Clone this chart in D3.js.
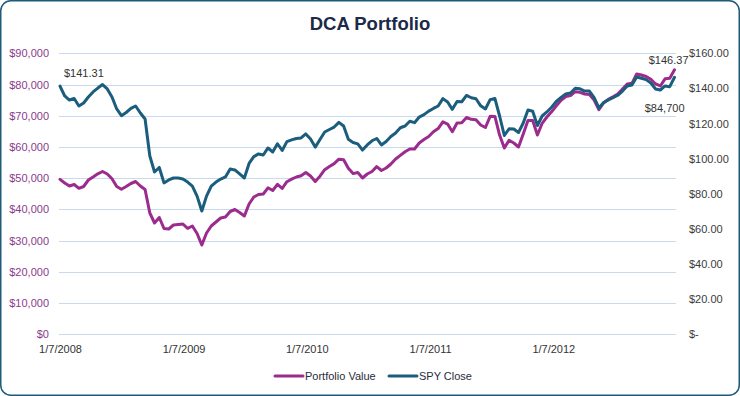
<!DOCTYPE html>
<html>
<head>
<meta charset="utf-8">
<script src="https://cdn.jsdelivr.net/npm/d3@7"></script>
<style>
  body { margin: 0; background: #fff; }
  svg { display: block; font-family: "Liberation Sans", Arial, sans-serif; }
</style>
</head>
<body>
<div id="chart"></div>
<script>
// weekly closes sampled every two weeks, first Monday of 2008 to the last Monday of 2012
const startDate = '2008-01-07'
const stepDays = 14

const spyClose = [
  141.31, 135.7, 133.4, 134.3, 130.0, 131.7, 135.1, 138.0, 140.2, 142.2,
  139.7, 135.1, 128.3, 124.5, 126.3, 128.6, 130.0, 126.0, 122.6, 101.5,
  92.4, 95.0, 86.2, 87.9, 89.0, 89.0, 88.4, 86.7, 84.4, 78.7,
  70.2, 78.7, 84.4, 86.7, 88.4, 89.6, 94.1, 93.6, 91.3, 89.0,
  97.3, 101.2, 102.7, 102.1, 106.1, 103.8, 108.5, 104.7, 109.7, 110.7,
  111.5, 111.8, 114.1, 111.2, 106.6, 110.9, 115.2, 116.6, 118.0, 120.7,
  118.6, 111.0, 109.2, 108.4, 104.9, 107.8, 110.2, 111.5, 107.8, 109.8,
  112.6, 114.6, 117.6, 118.6, 121.3, 120.5, 123.7, 125.1, 127.1, 128.6,
  130.0, 134.2, 132.3, 128.1, 132.6, 132.4, 136.0, 134.7, 134.1, 130.1,
  128.3, 133.6, 134.3, 124.3, 113.2, 117.0, 116.9, 114.9, 120.3, 127.7,
  127.0, 118.9, 124.3, 126.6, 129.3, 132.6, 134.9, 136.9, 137.4, 140.1,
  139.8, 138.5, 138.5, 134.8, 128.9, 132.0, 133.5, 134.8, 136.1, 138.5,
  141.4, 142.0, 146.5, 145.8, 145.0, 143.1, 139.7, 139.1, 141.4, 141.0,
  146.37
]

const portfolioValue = [
  49640, 48460, 47500, 47980, 46760, 47340, 49420, 50380, 51410, 52140,
  51340, 49800, 47340, 46470, 47340, 48300, 48940, 47500, 46380, 38850,
  35650, 37410, 33890, 33730, 35010, 35170, 35330, 33950, 34690, 32280,
  28600, 32440, 34690, 35970, 37250, 37570, 39330, 39970, 39010, 37890,
  41730, 43970, 44780, 44940, 46920, 46060, 48040, 46700, 48870, 49680,
  50380, 50760, 51820, 50700, 48940, 50640, 52720, 53770, 54670, 56080,
  55890, 53170, 51470, 51820, 50060, 51340, 52140, 53710, 52460, 53260,
  54540, 56150, 57300, 58480, 59350, 59350, 61270, 62390, 63350, 64860,
  65910, 68030, 67350, 64890, 67670, 67770, 69440, 68860, 68730, 67030,
  66230, 69820, 69760, 63830, 59670, 62130, 61270, 59990, 64150, 68480,
  68480, 63830, 67580, 69600, 71260, 73180, 74950, 76160, 76480, 77700,
  77510, 76960, 76800, 75040, 71940, 74080, 75230, 76070, 76960, 78560,
  80170, 80390, 83370, 83050, 82570, 81670, 80170, 79530, 81830, 81990,
  84700
]

const leftTicks = [0, 10000, 20000, 30000, 40000, 50000, 60000, 70000, 80000, 90000]
const rightTicks = [0, 20, 40, 60, 80, 100, 120, 140, 160]
const xTicks = ['2008-01-07', '2009-01-07', '2010-01-07', '2011-01-07', '2012-01-07']

const seriesNames = ['Portfolio Value', 'SPY Close']
const colors = ['#9c2b8e', '#1b5d7c']

;(() => {
  const width = 740
  const height = 396
  const plot = { left: 59, right: 676, top: 53.3, bottom: 334.3 }

  const parse = d3.utcParse('%Y-%m-%d')
  const start = parse(startDate)
  const dates = spyClose.map((v, i) => d3.utcDay.offset(start, i * stepDays))
  const rows = dates.map((d, i) => ({ date: d, spy: spyClose[i], value: portfolioValue[i] }))

  const svg = d3.select('#chart')
    .append('svg')
    .attr('width', width)
    .attr('height', height)

  // card
  svg.append('rect')
    .attr('x', 0.75).attr('y', 0.75)
    .attr('width', width - 1.5).attr('height', height - 1.5)
    .attr('rx', 10)
    .attr('fill', '#fff')
    .attr('stroke', '#1f5a78')
    .attr('stroke-width', 1.5)

  svg.append('text')
    .attr('x', 370).attr('y', 30)
    .attr('text-anchor', 'middle')
    .attr('font-size', 18.5)
    .attr('font-weight', 'bold')
    .attr('fill', '#1b2a47')
    .text('DCA Portfolio')

  const xScale = d3.scaleUtc()
    .domain([dates[0], dates[dates.length - 1]])
    .range([60, 674.5])
  const yLeft = d3.scaleLinear().domain([0, 90000]).range([plot.bottom, plot.top])
  const yRight = d3.scaleLinear().domain([0, 160]).range([plot.bottom, plot.top])

  // grid
  svg.append('g')
    .selectAll('line')
    .data(leftTicks)
    .join('line')
    .attr('x1', plot.left).attr('x2', plot.right)
    .attr('y1', d => Math.round(yLeft(d)) + 0.5)
    .attr('y2', d => Math.round(yLeft(d)) + 0.5)
    .attr('stroke', '#c8daee')
    .attr('stroke-width', 1)

  // left axis
  const leftAxis = svg.append('g')
    .attr('transform', `translate(${plot.left}, 0)`)
    .call(d3.axisLeft(yLeft).tickValues(leftTicks).tickSize(0).tickPadding(10)
      .tickFormat(d => '$' + d3.format(',')(d)))
  leftAxis.select('.domain').remove()
  leftAxis.selectAll('text')
    .attr('font-size', 11)
    .attr('font-family', '"Liberation Sans", Arial, sans-serif')
    .attr('fill', '#8b3a8c')

  // right axis
  const rightAxis = svg.append('g')
    .attr('transform', `translate(${plot.right}, 0)`)
    .call(d3.axisRight(yRight).tickValues(rightTicks).tickSize(0).tickPadding(13)
      .tickFormat(d => d === 0 ? '$-' : '$' + d3.format('.2f')(d)))
  rightAxis.select('.domain').remove()
  rightAxis.selectAll('text')
    .attr('font-size', 11)
    .attr('font-family', '"Liberation Sans", Arial, sans-serif')
    .attr('fill', '#3a3a3a')

  // bottom axis
  const bottomAxis = svg.append('g')
    .attr('transform', `translate(0, ${plot.bottom})`)
    .call(d3.axisBottom(xScale).tickValues(xTicks.map(parse)).tickSize(0).tickPadding(11)
      .tickFormat(d => `${d.getUTCMonth() + 1}/${d.getUTCDate()}/${d.getUTCFullYear()}`))
  bottomAxis.select('.domain').remove()
  bottomAxis.selectAll('text')
    .attr('font-size', 11)
    .attr('font-family', '"Liberation Sans", Arial, sans-serif')
    .attr('fill', '#333')

  // lines
  const valueLine = d3.line()
    .x(d => xScale(d.date))
    .y(d => yLeft(d.value))
  const spyLine = d3.line()
    .x(d => xScale(d.date))
    .y(d => yRight(d.spy))

  svg.append('path')
    .datum(rows)
    .attr('d', valueLine)
    .attr('fill', 'none')
    .attr('stroke', colors[0])
    .attr('stroke-width', 3)
    .attr('stroke-linejoin', 'round')
    .attr('stroke-linecap', 'round')

  svg.append('path')
    .datum(rows)
    .attr('d', spyLine)
    .attr('fill', 'none')
    .attr('stroke', colors[1])
    .attr('stroke-width', 3)
    .attr('stroke-linejoin', 'round')
    .attr('stroke-linecap', 'round')

  // data labels
  const first = rows[0]
  const last = rows[rows.length - 1]
  const labels = svg.append('g')
    .attr('font-size', 11)
    .attr('fill', '#333')
  labels.append('text')
    .attr('x', xScale(first.date) + 4)
    .attr('y', yRight(first.spy) - 9)
    .text('$' + d3.format('.2f')(first.spy))
  labels.append('text')
    .attr('x', xScale(last.date) + 14)
    .attr('y', yRight(last.spy) - 13)
    .attr('text-anchor', 'end')
    .text('$' + d3.format('.2f')(last.spy))
  labels.append('text')
    .attr('x', xScale(last.date) + 10)
    .attr('y', yLeft(last.value) + 42)
    .attr('text-anchor', 'end')
    .text('$' + d3.format(',')(last.value))

  // legend
  const legendItems = [
    { name: seriesNames[0], color: colors[0], x: 275 },
    { name: seriesNames[1], color: colors[1], x: 389 }
  ]
  const legend = svg.append('g')
    .selectAll('g')
    .data(legendItems)
    .join('g')
    .attr('transform', d => `translate(${d.x}, 376)`)
  legend.append('line')
    .attr('x1', 0).attr('x2', 28)
    .attr('stroke', d => d.color)
    .attr('stroke-width', 3)
    .attr('stroke-linecap', 'round')
  legend.append('text')
    .attr('x', 30)
    .attr('y', 4)
    .attr('font-size', 11)
    .attr('fill', '#2b2b3b')
    .text(d => d.name)
})()
</script>
</body>
</html>
